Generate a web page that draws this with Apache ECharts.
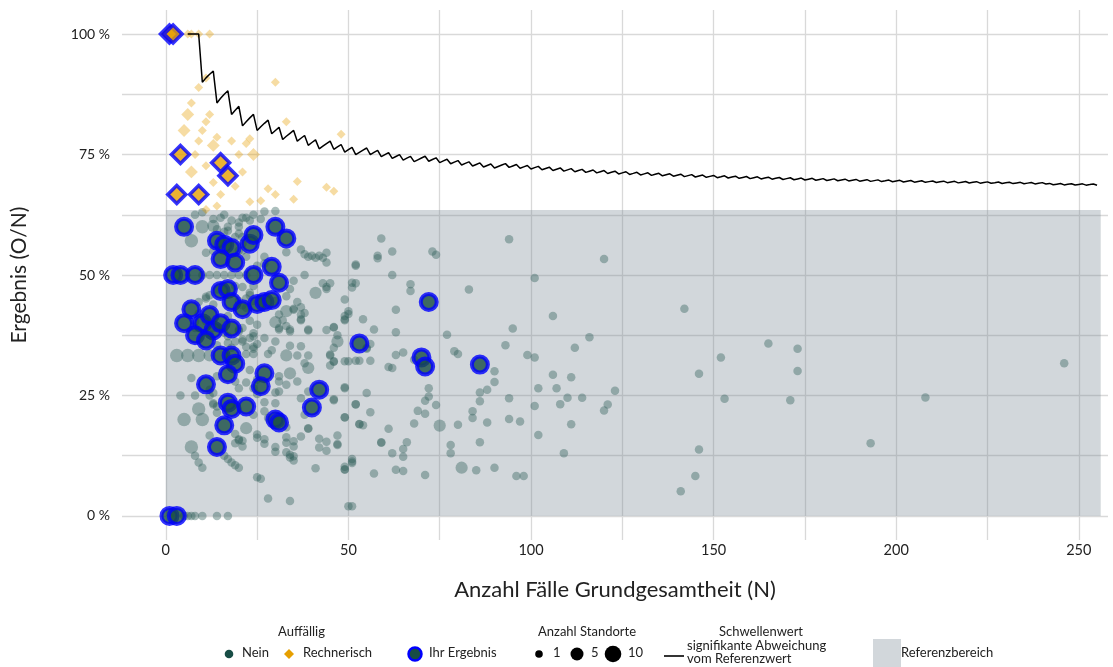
<!DOCTYPE html>
<html>
<head>
<meta charset="utf-8">
<title>Ergebnis (O/N)</title>
<script src="https://cdn.jsdelivr.net/npm/echarts@6/dist/echarts.min.js"></script>
<style>
  html, body { margin: 0; padding: 0; background: #fff; }
  #chart { width: 1113px; height: 667px; }
</style>
</head>
<body>
<div id="chart"></div>
<script>
// Achsen: Gitterlinien und Beschriftungen
var xGitter = [0, 25, 50, 75, 100, 125, 150, 175, 200, 225, 250];
var xBeschriftung = [0, 50, 100, 150, 200, 250];
var yGitter = [0, 12.5, 25, 37.5, 50, 62.5, 75, 87.5, 100];
var yBeschriftung = [0, 25, 50, 75, 100];

// Referenzbereich (N von..bis, Ergebnis von..bis in %)
var referenzN = [0, 256];
var referenzWert = [0, 63.5];

// Schwellenwert signifikante Abweichung [N, %]
var schwellenwert = [
  [6,100],[7,100],[8,100],[9,100],[10,90],[11,90.91],[12,91.67],[13,92.31],[14,85.71],[15,86.67],
  [16,87.5],[17,88.24],[18,83.33],[19,84.21],[20,85],[21,80.95],[22,81.82],[23,82.61],[24,83.33],[25,80],
  [26,80.77],[27,81.48],[28,82.14],[29,79.31],[30,80],[31,80.65],[32,78.13],[33,78.79],[34,79.41],[35,80],
  [36,77.78],[37,78.38],[38,78.95],[39,76.92],[40,77.5],[41,78.05],[42,76.19],[43,76.74],[44,77.27],[45,77.78],
  [46,76.09],[47,76.6],[48,77.08],[49,75.51],[50,76],[51,76.47],[52,75],[53,75.47],[54,75.93],[55,76.36],
  [56,75],[57,75.44],[58,75.86],[59,74.58],[60,75],[61,75.41],[62,74.19],[63,74.6],[64,75],[65,73.85],
  [66,74.24],[67,74.63],[68,73.53],[69,73.91],[70,74.29],[71,74.65],[72,73.61],[73,73.97],[74,74.32],[75,73.33],
  [76,73.68],[77,74.03],[78,73.08],[79,73.42],[80,73.75],[81,72.84],[82,73.17],[83,73.49],[84,72.62],[85,72.94],
  [86,73.26],[87,72.41],[88,72.73],[89,73.03],[90,72.22],[91,72.53],[92,72.83],[93,73.12],[94,72.34],[95,72.63],
  [96,72.92],[97,72.16],[98,72.45],[99,72.73],[100,72],[101,72.28],[102,72.55],[103,71.84],[104,72.12],[105,72.38],
  [106,71.7],[107,71.96],[108,72.22],[109,71.56],[110,71.82],[111,72.07],[112,71.43],[113,71.68],[114,71.93],[115,71.3],
  [116,71.55],[117,71.79],[118,71.19],[119,71.43],[120,71.67],[121,71.07],[122,71.31],[123,71.54],[124,70.97],[125,71.2],
  [126,71.43],[127,70.87],[128,71.09],[129,71.32],[130,70.77],[131,70.99],[132,71.21],[133,70.68],[134,70.9],[135,71.11],
  [136,70.59],[137,70.8],[138,71.01],[139,70.5],[140,70.71],[141,70.92],[142,70.42],[143,70.63],[144,70.83],[145,70.34],
  [146,70.55],[147,70.75],[148,70.27],[149,70.47],[150,70.67],[151,70.2],[152,70.39],[153,70.59],[154,70.13],[155,70.32],
  [156,70.51],[157,70.06],[158,70.25],[159,70.44],[160,70],[161,70.19],[162,70.37],[163,69.94],[164,70.12],[165,70.3],
  [166,69.88],[167,70.06],[168,70.24],[169,69.82],[170,70],[171,70.18],[172,69.77],[173,69.94],[174,70.11],[175,69.71],
  [176,69.89],[177,70.06],[178,69.66],[179,69.83],[180,70],[181,69.61],[182,69.78],[183,69.95],[184,69.57],[185,69.73],
  [186,69.89],[187,69.52],[188,69.68],[189,69.84],[190,69.47],[191,69.63],[192,69.79],[193,69.43],[194,69.59],[195,69.74],
  [196,69.39],[197,69.54],[198,69.7],[199,69.35],[200,69.5],[201,69.65],[202,69.31],[203,69.46],[204,69.61],[205,69.27],
  [206,69.42],[207,69.57],[208,69.23],[209,69.38],[210,69.52],[211,69.19],[212,69.34],[213,69.48],[214,69.16],[215,69.3],
  [216,69.44],[217,69.12],[218,69.27],[219,69.41],[220,69.09],[221,69.23],[222,69.37],[223,69.06],[224,69.2],[225,69.33],
  [226,69.03],[227,69.16],[228,69.3],[229,69],[230,69.13],[231,69.26],[232,68.97],[233,69.1],[234,69.23],[235,68.94],
  [236,69.07],[237,69.2],[238,68.91],[239,69.04],[240,69.17],[241,68.88],[242,69.01],[243,68.72],[244,68.85],[245,68.98],
  [246,68.7],[247,68.83],[248,68.95],[249,68.67],[250,68.8],[251,68.92],[252,68.65],[253,68.77],[254,68.9],[255,68.63]
];

// Auffällig: Nein [N, %, Anzahl Standorte]
var nein = [
  [5,0],[6,0],[7,0],[8,0],[10,0],[14,0],[17,0],
  [8,62.5],[10,63],[13,61.6],[15,61.9],[18,61.3],[20,60.9],[22,61.9],[23,61.3],[26,61.6],[27,63.2],[24,62.5],[16,62.5],[21,61.9],
  [10,60,4],[13,60.2,3],[7,57.1,4],[17,60],[20,60],[16,59],[14,59.5],[17,59.2],[20,58.6],[21,57.9],[19,57.9],
  [11,54.6],[13,55],[21,55.1],[22,53.8],[27,53.8],[27,52.4],[25,51.9],[20,55.1],[21,56.5],
  [10,50],[12,50],[14,50],[16,50],[18,50],[20,50],[22,50],
  [9,44.4],[11,45.5],[14,47],[19,47.7],[21,47.5],[23,46.3],[24,47.7],[22,45.1],[23,45.8],[21,43.7],[11,45.1],[12,45.8],
  [13,43.9],[9,42],[8,40.3],[17,41.5],[23,40.5],[25,39.7],[24,37.9],[20,38.3],[21,36.6],[17,37.3],[22,35.1],[24,35.1],
  [24,37.3],[14,35.4],[17,35.9],[22,33.6],[24,34.7],[24,44.6],[22,43.2],[20,44.6],[8,39],[11,40.4],[13,39],[15,39],
  [16,38],[12,37.6],[20,38.7],[21,39],[18,34.9],[19,36.2],[21,36.2],[23,36.9],[25,35.7],[24,33.6],[27,36.9],[29,34.4],
  [28,33.6],[30,36.2],
  [3,33.3,4],[6,33.3,4],[9,33.3,4],[12,33.3,3],
  [7,28.6],[14,29],[19,27.9],[20,26.5],[22,27.7],[23,30.3],[24,26.5],[25,28.3],[12,26.2],[13,25.5],[13,23.4],[14,22.7],
  [4,25],[8,25],[12,25],[13,23.1],[14,21.4],
  [5,20,4],[10,20,4],[9,22.2,4],[7,14.3,4],[12,16.7],[8,12.5],[9,11.1],[10,10],
  [20,15.7],[21,14.4],[19,15.1],[16,12.5],[17,11.8],[18,11.1],[19,10.5],[20,10],
  [22,18.2,3],[19,17],[20,15.9],[21,15.6],[24,21],[27,23.6],[25,25.3],[30,25.6],[31,27.9],[25,16.9],[27,15.9],[30,14.3],
  [33,13.2],[34,12.7],[35,12.4],[33,16.3],[35,15.5],[25,16.2],[27,15],[27,21.7],[28,20.3],
  [25,8],[26,7.7],[28,3.6],[34,3.1],
  [30,63.3],[33,54.7],[37,55.3],[38,54.3],[39,53.8],[41,53.6],[43,53.6],[44,54.6],[44,52.6],[40,54],[42,54],
  [52,52.2],[58,54],[59,57.6],[62,54.9],[58,53.5],[52,51.9],[62,50],
  [35,48.8],[38,50],[43,48.3],[45,48.3],[44,47.1],[41,46.3,3],[52,48.3],[51,47.4],[51,48.4],[44,47.5],
  [34,47.1],[33,45.6],[49,44.9],[36,44.4],[37,43.3],[35,43],[38,42.1],[33,42.5,3],[31,41.8],[30,40.2,3],[32,40.6],
  [33,39.4],[34,38.3],[31,38.7],[37,40.6],[39,38.5],[44,38.6],[46,39.1],[50,41.9],[49,40.6],[54,40.8],[57,38.7],
  [30,44.6],[35,42.8],[37,41.8],[31,39],[34,38.7],[37,40.8],[39,38.7],[49,41.5],[50,42.5],[55,34.9],
  [47,36.2,3],[46,34.9],[45,33.3],[45,31.2],[50,32.1],[53,32.2],[56,32.2],[61,30.9],
  [34,35.3],[37,35.2],[33,33.3,3],[36,33.3],[39,33.3],[38,31.7],[39,30.7,3],[34,29.6,3],
  [31,29],[33,27.2],[36,27.9],[31,25.8],[39,25.8],[37,24.4],[46,24],[49,26.5],[52,23.1],[55,25.5],[56,21.5],
  [30,23.4],[33,18.4],[38,21],[39,18.1],[49,20.5],[53,19],[54,18.8],
  [33,15.2],[35,14.4],[30,13.3],[34,12.1],[35,11.5],[42,14.2],[44,13.5],[47,14.7],[51,11],[49,9.6],[41,9.9],[59,15.2],
  [57,8.8],[50,2],[51,2],[42,16],[44,15.4],[47,16.7],[49,10.2],[51,11.8],[39,18.2],[37,16.5],
  [94,57.4],[73,54.9],[74,54.2],[120,53.3],[67,48.1],[67,46.7],[83,47],[101,49.4],[63,42.8],[106,41.5],[49,40.8],
  [46,39.2],[63,38.1],[77,37.6],[95,38.9],[116,37.1],[47,37.5],[45,33.5],[56,35.7],[55,34.7],[93,35.4],[112,34.9],
  [65,33.9],[63,33.4],[79,34.2],[80,33.6],[99,33.4],[101,32.9],[46,32.1],[49,32.1],[52,32.2],[62,30.7],[68,32.4],
  [90,30],[90,27.8],[106,29.3],[111,28.8],[88,26.2],[86,25.6],[102,26.5],[107,26.5],[123,26],[94,24.4],[101,22.8],
  [108,23.2],[110,24.5],[114,24.5],[120,21.9],[121,23.1],[111,19],[49,26.7],[52,23.2],[46,24.2],[72,26.5],[72,24.8],
  [71,23.9],[74,23],[69,21.8],[71,21.2],[84,21.7],[84,20.3],[88,19.4],[86,23.8],[94,20.1],[97,19.6],[102,16.8],
  [109,13],[75,18.75,3],[80,18.9],[68,19.2],[61,18.1],[59,15.3],[62,13],[65,13.9],[66,15.3],[65,12.3],[78,14.7],
  [78,13],[86,15.3],[63,9.6],[65,9.3],[71,8.5],[81,10,3],[85,9.5],[90,10],[96,8.3],[98,8.3],[47,14.9],[49,9.7],
  [51,11.3],[46,32],[49,20.4],[53,19.1],
  [142,43],[146,29.5],[152,32.9],[165,35.8],[173,34.7],[173,30.1],[153,24.3],[171,24],[208,24.6],[246,31.7],
  [193,15.1],[146,13.8],[145,8.3],[141,5.1]
];

// Auffällig: Rechnerisch [N, %, Anzahl Standorte]
var rechnerisch = [
  [6,100],[7,100],[9,100],[12,100],[11,90.9],[30,90],[9,88.9],[7,85.7],[6,83.3,3],[12,83.3],[11,81.8],[33,81.8],
  [5,80,3],[10,80],[14,78.6],[23,78.3],[48,79.2],[9,77.8],[18,77.8],[13,76.9,3],[22,77.3],[8,75],[20,75],[24,75,3],
  [11,72.7],[7,71.4,3],[21,71.4],[36,69.4],[44,68.2],[46,67.4],[13,69.2],[15,66.7],[28,67.9],[30,66.7],[35,65.7],
  [19,68.4],[23,65.2],[26,65.4],[11,63.6],[14,64.3]
];

// Ihr Ergebnis: nicht auffällig
var ihrErgebnis = [
  [5,60],[2,50],[4,50],[8,50],[14,57.1],[16,56.3],[18,55.6],[15,53.3],[19,52.6],[23,56.5],[24,58.3],[30,60],
  [29,51.7],[24,50],[15,46.7],[17,47.1],[18,44.4],[21,42.9],[25,44],[27,44.4],[29,44.8],[7,42.9],[5,40],[10,40],
  [12,41.7],[8,37.5],[13,38.5],[15,40],[18,38.9],[11,36.4],[15,33.3],[18,33.3],[19,31.6],[17,29.4],[11,27.3],
  [27,29.6],[26,26.9],[17,23.5],[18,22.2],[22,22.7],[16,18.8],[14,14.3],[30,20],[31,19.4],[1,0],[3,0],
  [33,57.6],[31,48.4],[53,35.8],[42,26.2],[40,22.5],[72,44.4],[70,32.9],[71,31],[86,31.4]
];

// Ihr Ergebnis: rechnerisch auffällig
var ihrErgebnisAuffaellig = [
  [1,100],[2,100],[4,75],[15,73.3],[17,70.6],[3,66.7],[9,66.7]
];

var schrift = 'Lato, "Open Sans", sans-serif';
var grauPunkt = '#2f5f5a';
var orange = '#e69f00';
var blau = '#0000ff';
var dunkelgruen = '#184d45';
var refFarbe = 'rgba(116,132,144,0.32)';

function groesse(basis) {
  return function (val) {
    return basis * Math.pow(val[2] || 1, 0.33);
  };
}

var chart = echarts.init(document.getElementById('chart'));

var option = {
  backgroundColor: '#fff',
  animation: false,
  textStyle: { fontFamily: schrift },
  grid: { left: 122, right: 5, top: 10, bottom: 127, outerBoundsMode: 'none', containLabel: false },
  xAxis: {
    type: 'value',
    min: -12,
    max: 258,
    name: 'Anzahl Fälle Grundgesamtheit (N)',
    nameLocation: 'middle',
    nameGap: 39,
    nameTextStyle: { fontSize: 22, color: '#222', fontFamily: schrift },
    axisLine: { show: false },
    axisTick: { show: false, customValues: xGitter },
    axisLabel: { customValues: xBeschriftung, fontSize: 14.5, color: '#222', margin: 3, fontFamily: schrift },
    splitLine: { show: true, lineStyle: { color: '#d9d9d9', width: 1.3 } }
  },
  yAxis: {
    type: 'value',
    min: -5,
    max: 105,
    name: 'Ergebnis (O/N)',
    nameLocation: 'middle',
    nameGap: 92,
    nameTextStyle: { fontSize: 21, color: '#222', fontFamily: schrift },
    axisLine: { show: false },
    axisTick: { show: false, customValues: yGitter },
    axisLabel: {
      customValues: yBeschriftung, fontSize: 14, color: '#222', margin: 12, fontFamily: schrift,
      formatter: function (v) { return v + ' %'; }
    },
    splitLine: { show: true, lineStyle: { color: '#d9d9d9', width: 1.3 } }
  },
  series: [
    {
      name: 'Referenzbereich',
      type: 'scatter',
      data: [],
      z: 1,
      silent: true,
      markArea: {
        silent: true,
        itemStyle: { color: refFarbe },
        data: [[{ xAxis: referenzN[0], yAxis: referenzWert[0] }, { xAxis: referenzN[1], yAxis: referenzWert[1] }]]
      }
    },
    {
      name: 'Nein',
      type: 'scatter',
      z: 2,
      data: nein,
      symbol: 'circle',
      symbolSize: groesse(8.5),
      itemStyle: { color: grauPunkt, opacity: 0.4 }
    },
    {
      name: 'Rechnerisch',
      type: 'scatter',
      z: 2,
      data: rechnerisch,
      symbol: 'diamond',
      symbolSize: groesse(9),
      itemStyle: { color: orange, opacity: 0.36 }
    },
    {
      name: 'Schwellenwert',
      type: 'line',
      z: 3,
      data: schwellenwert,
      showSymbol: false,
      symbol: 'none',
      lineStyle: { color: '#000', width: 1.5 }
    },
    {
      name: 'Ihr Ergebnis',
      type: 'scatter',
      z: 4,
      data: ihrErgebnis,
      symbol: 'circle',
      symbolSize: 16,
      itemStyle: { color: dunkelgruen, borderColor: blau, borderWidth: 4 }
    },
    {
      name: 'Ihr Ergebnis auffällig',
      type: 'scatter',
      z: 4,
      data: ihrErgebnisAuffaellig,
      symbol: 'diamond',
      symbolSize: 18,
      itemStyle: { color: orange, borderColor: blau, borderWidth: 3.5 }
    }
  ],
  graphic: [
    { type: 'text', left: 278, top: 625, style: { text: 'Auffällig', font: '13px ' + schrift, fill: '#222' } },
    { type: 'circle', shape: { cx: 229, cy: 654, r: 4.3 }, style: { fill: dunkelgruen } },
    { type: 'text', left: 242, top: 646, style: { text: 'Nein', font: '13px ' + schrift, fill: '#222' } },
    { type: 'polygon', shape: { points: [[289, 649], [294, 654], [289, 659], [284, 654]] }, style: { fill: orange } },
    { type: 'text', left: 303, top: 646, style: { text: 'Rechnerisch', font: '13px ' + schrift, fill: '#222' } },
    { type: 'circle', shape: { cx: 415, cy: 654, r: 6.5 }, style: { fill: dunkelgruen, stroke: blau, lineWidth: 2.5 } },
    { type: 'text', left: 429, top: 646, style: { text: 'Ihr Ergebnis', font: '13px ' + schrift, fill: '#222' } },
    { type: 'text', left: 538, top: 625, style: { text: 'Anzahl Standorte', font: '13px ' + schrift, fill: '#222' } },
    { type: 'circle', shape: { cx: 539, cy: 654, r: 3.8 }, style: { fill: '#000' } },
    { type: 'text', left: 553, top: 646, style: { text: '1', font: '13px ' + schrift, fill: '#222' } },
    { type: 'circle', shape: { cx: 577, cy: 654, r: 6.5 }, style: { fill: '#000' } },
    { type: 'text', left: 591, top: 646, style: { text: '5', font: '13px ' + schrift, fill: '#222' } },
    { type: 'circle', shape: { cx: 613, cy: 654, r: 8.3 }, style: { fill: '#000' } },
    { type: 'text', left: 628, top: 646, style: { text: '10', font: '13px ' + schrift, fill: '#222' } },
    { type: 'line', shape: { x1: 664, y1: 656, x2: 684, y2: 656 }, style: { stroke: '#000', lineWidth: 1.6 } },
    { type: 'text', left: 719, top: 625, style: { text: 'Schwellenwert', font: '13px ' + schrift, fill: '#222' } },
    { type: 'text', left: 687, top: 639, style: { text: 'signifikante Abweichung', font: '13px ' + schrift, fill: '#222' } },
    { type: 'text', left: 687, top: 652, style: { text: 'vom Referenzwert', font: '13px ' + schrift, fill: '#222' } },
    { type: 'rect', shape: { x: 873, y: 639, width: 28, height: 28 }, style: { fill: refFarbe } },
    { type: 'text', left: 901, top: 646, style: { text: 'Referenzbereich', font: '13px ' + schrift, fill: '#222' } }
  ]
};

chart.setOption(option);
</script>
</body>
</html>
